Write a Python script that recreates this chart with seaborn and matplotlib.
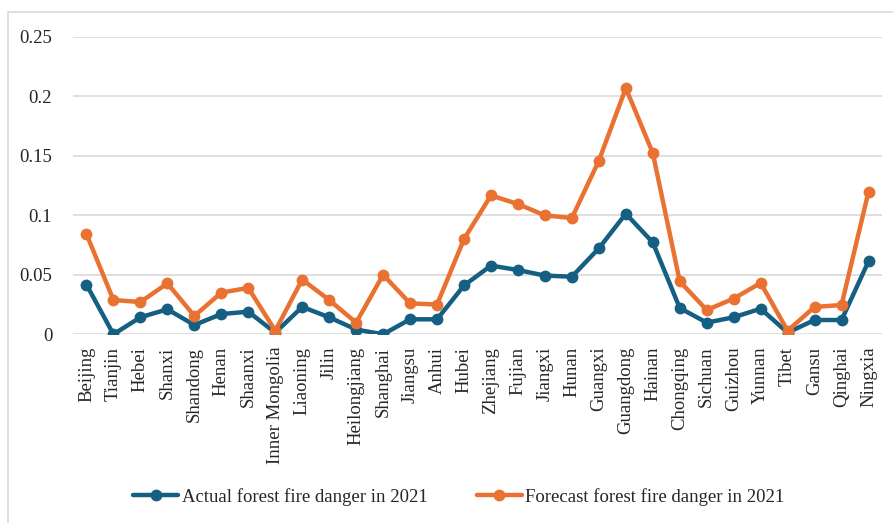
import numpy as np
import pandas as pd
import matplotlib
matplotlib.use("Agg")
import matplotlib.pyplot as plt
import seaborn as sns
from matplotlib.patches import Rectangle

provinces = ["Beijing", "Tianjin", "Hebei", "Shanxi", "Shandong", "Henan", "Shaanxi",
             "Inner Mongolia", "Liaoning", "Jilin", "Heilongjiang", "Shanghai", "Jiangsu",
             "Anhui", "Hubei", "Zhejiang", "Fujian", "Jiangxi", "Hunan", "Guangxi",
             "Guangdong", "Hainan", "Chongqing", "Sichuan", "Guizhou", "Yunnan", "Tibet",
             "Gansu", "Qinghai", "Ningxia"]

actual = [0.0417, 0.0, 0.0143, 0.021, 0.0078, 0.017, 0.019, 0.0014, 0.023, 0.0143,
          0.004, 0.0, 0.0126, 0.0126, 0.041, 0.0577, 0.054, 0.0493, 0.0484, 0.0722,
          0.1013, 0.0772, 0.0221, 0.0098, 0.0143, 0.0215, 0.0014, 0.012, 0.012, 0.0613]

forecast = [0.0842, 0.0288, 0.0271, 0.0428, 0.0154, 0.035, 0.039, 0.003, 0.046, 0.0288,
            0.0098, 0.050, 0.026, 0.025, 0.080, 0.1167, 0.1094, 0.0999, 0.0977, 0.1458,
            0.2068, 0.1523, 0.0445, 0.0204, 0.030, 0.0431, 0.003, 0.023, 0.0246, 0.1198]

series_names = ["Actual forest fire danger in 2021", "Forecast forest fire danger in 2021"]
colors = ["#156082", "#E97132"]
yticks = [0, 0.05, 0.1, 0.15, 0.2, 0.25]
ytick_labels = ["0", "0.05", "0.1", "0.15", "0.2", "0.25"]

df = pd.DataFrame({
    "pos": list(range(len(provinces))) * 2,
    "value": actual + forecast,
    "series": [series_names[0]] * len(provinces) + [series_names[1]] * len(provinces),
})

sns.set_style("white")
plt.rcParams["font.family"] = ["Liberation Serif", "DejaVu Serif"]

fig = plt.figure(figsize=(8.93, 5.23), dpi=100)
ax = fig.add_axes([73 / 893, 1 - 334.3 / 523, (882 - 73) / 893, (334.3 - 36.7) / 523])

sns.lineplot(data=df, x="pos", y="value", hue="series", palette=colors,
             marker="o", markersize=8.5, markeredgewidth=0, linewidth=3.2,
             ax=ax, legend=False, zorder=3)

ax.set_xlim(-0.5, len(provinces) - 0.5)
ax.set_ylim(0, 0.25)
ax.set_yticks(yticks)
ax.set_yticklabels(ytick_labels, fontsize=13.5)
ax.set_xticks(range(len(provinces)))
ax.set_xticklabels(provinces, rotation=90, fontsize=13.5, va="top", ha="center")
ax.tick_params(axis="y", length=0, pad=15)
ax.tick_params(axis="x", length=0, pad=9)
ax.set_xlabel("")
ax.set_ylabel("")
for s in ax.spines.values():
    s.set_visible(False)
ax.yaxis.grid(True, color="#d9d9d9", linewidth=1.2)
ax.set_axisbelow(True)
ax.margins(x=0)

# outer chart border
fig.patches.append(Rectangle((8 / 893, -0.1), 1.2, 1 - 12 / 523 + 0.1,
                             transform=fig.transFigure, fill=False,
                             edgecolor="#d9d9d9", linewidth=1.2, zorder=0))

from matplotlib.lines import Line2D
handles = [Line2D([0], [0], color=c, linewidth=3.2, marker="o", markersize=8.5,
                  markeredgewidth=0) for c in colors]
fig.legend(handles, series_names, loc="center", bbox_to_anchor=(0.514, 1 - 497 / 523),
           ncol=2, frameon=False, fontsize=13.5, handlelength=2.4, handletextpad=0.2,
           columnspacing=2.6)

fig.savefig("out.png", dpi=100)
